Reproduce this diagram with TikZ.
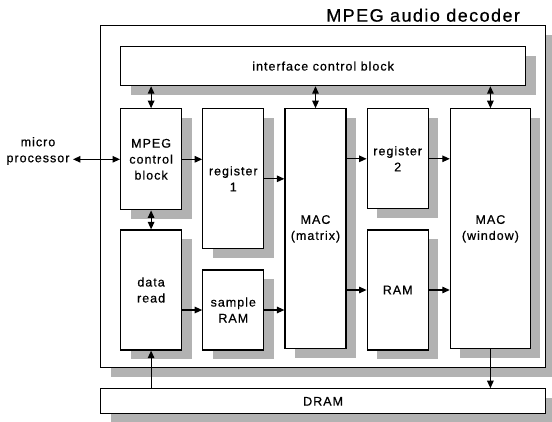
\documentclass[tikz,border=0pt]{standalone}
\usepackage{fontspec}
\setmainfont{Liberation Sans}[LetterSpace=8,FakeBold=0.6]
\usetikzlibrary{arrows.meta,positioning,shadows}

\begin{document}
\begin{tikzpicture}[
        x=1pt, y=-1pt,
        font=\fontsize{12.5}{16}\selectfont,
        box/.style={
            draw, line width=1.2pt, fill=white,
            drop shadow={shadow xshift=10pt, shadow yshift=-9pt,
                opacity=1, fill=gray!60},
            minimum width=61pt,
            align=center,
            inner sep=2pt
        },
        arrow/.style={-{Triangle[length=7.5pt,width=6.5pt]}, line width=1.2pt},
        biarrow/.style={{Triangle[length=7.5pt,width=6.5pt]}-{Triangle[length=7.5pt,width=6.5pt]}, line width=1.2pt},
        node distance=20pt
    ]
    \useasboundingbox (0,0) rectangle (552,421);

    % Outer block and memory
    \node[box, minimum width=445pt, minimum height=342pt, anchor=north west] (decoder) at (100,25) {};
    \node[above left=3pt and 26pt of decoder.north east, font=\fontsize{18}{20}\selectfont, inner sep=0pt] (title) {MPEG audio decoder};
    \node[box, minimum width=445pt, minimum height=25pt, below=20pt of decoder.south west, anchor=north west] (dram) {DRAM};

    \node[align=center] (cpu) at (38,151) {micro\\processor};

    % Inner blocks
    \node[box, minimum width=405pt, minimum height=39pt, anchor=north west] (icb) at (120,46) {interface control block};
    \node[box, minimum height=101pt, below=22pt of icb.south west, anchor=north west] (ctrl) {MPEG\\control\\block};
    \node[box, minimum height=120pt, below=19pt of ctrl] (read) {data\\read};
    \node[box, minimum height=140pt, right=20pt of ctrl.north east, anchor=north west] (reg1) {register\\1};
    \node[box, minimum height=80pt, below=of reg1] (sram) {sample\\RAM};
    \node[box, minimum height=240pt, right=20pt of reg1.north east, anchor=north west] (macm) {MAC\\(matrix)};
    \node[box, minimum height=100pt, right=20pt of macm.north east, anchor=north west] (reg2) {register\\2};
    \node[box, minimum height=120pt, below=of reg2] (ram) {RAM};
    \node[box, minimum width=80pt, minimum height=240pt, right=21pt of reg2.north east, anchor=north west] (macw) {MAC\\(window)};

    % Arrows
    \draw[biarrow] (cpu.east |- ctrl.west) -- (ctrl.west);
    \draw[biarrow] (icb.south -| ctrl.north) -- (ctrl.north);
    \draw[biarrow] (icb.south -| macm.north) -- (macm.north);
    \draw[biarrow] (icb.south -| macw.north) -- (macw.north);
    \draw[biarrow] (ctrl.south) -- (read.north);

    \draw[arrow] (ctrl.east) -- (ctrl.east -| reg1.west);
    \draw[arrow] (reg1.east) -- (reg1.east -| macm.west);
    \draw[arrow] (read.east |- sram.west) -- (sram.west);
    \draw[arrow] (sram.east) -- (sram.east -| macm.west);
    \draw[arrow] (macm.east |- reg2.west) -- (reg2.west);
    \draw[arrow] (reg2.east) -- (reg2.east -| macw.west);
    \draw[arrow] (macm.east |- ram.west) -- (ram.west);
    \draw[arrow] (ram.east) -- (ram.east -| macw.west);

    \draw[arrow] (dram.north -| read.south) -- (read.south);
    \draw[arrow] (macw.south) -- (macw.south |- dram.north);

    \end{tikzpicture}
\end{document}
